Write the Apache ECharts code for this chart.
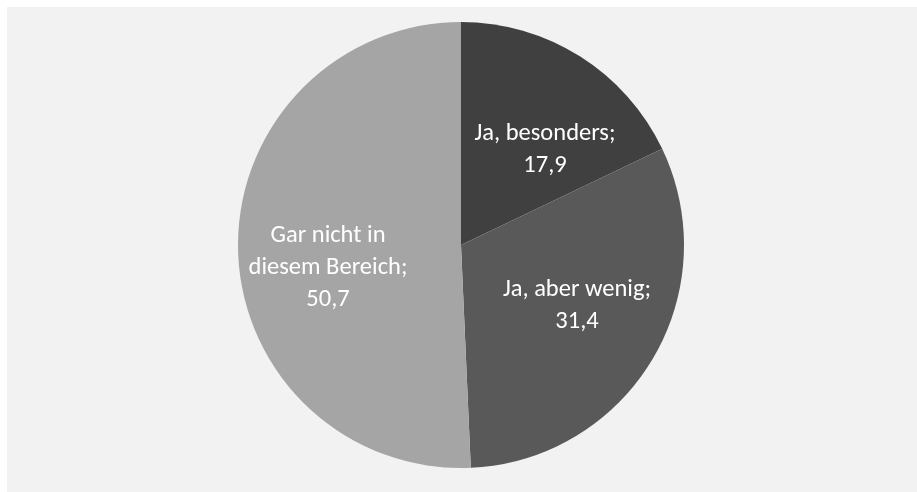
<!DOCTYPE html>
<html>
<head>
<meta charset="utf-8">
<script src="https://cdn.jsdelivr.net/npm/echarts@6/dist/echarts.min.js"></script>
<style>
  html, body { margin: 0; padding: 0; background: #ffffff; }
  #main { width: 917px; height: 492px; }
</style>
</head>
<body>
<div id="main"></div>
<script>
// Kategorien und Werte (Prozent)
var categories = ["Ja, besonders", "Ja, aber wenig", "Gar nicht in\ndiesem Bereich"];
var values = [17.9, 31.4, 50.7];
var colors = ["#404040", "#595959", "#a5a5a5"];

// Beschriftungspositionen (Label-Mittelpunkte)
var labelPos = [[545, 150], [577, 306], [328, 268]];

var pieData = [];
for (var i = 0; i < categories.length; i++) {
    pieData.push({ name: categories[i], value: values[i], itemStyle: { color: colors[i] } });
}

var myChart = echarts.init(document.getElementById("main"));
var option = {
    animation: false,
    graphic: [{
        type: 'rect',
        z: -10,
        shape: { x: 7, y: 7, width: 910, height: 485 },
        style: { fill: '#f2f2f2' }
    }],
    series: [{
        type: 'pie',
        center: [461, 245],
        radius: 223,
        startAngle: 90,
        clockwise: true,
        silent: true,
        itemStyle: { borderWidth: 0 },
        label: {
            show: true,
            position: 'inside',
            color: '#ffffff',
            fontFamily: 'Carlito, Lato, sans-serif',
            fontSize: 24.5,
            lineHeight: 32,
            align: 'center',
            formatter: function (p) {
                return p.name + ';\n' + String(p.value).replace('.', ',');
            }
        },
        labelLine: { show: false },
        labelLayout: function (params) {
            var pos = labelPos[params.dataIndex];
            return { x: pos[0], y: pos[1], align: 'center', verticalAlign: 'middle' };
        },
        data: pieData
    }]
};
myChart.setOption(option);
</script>
</body>
</html>
